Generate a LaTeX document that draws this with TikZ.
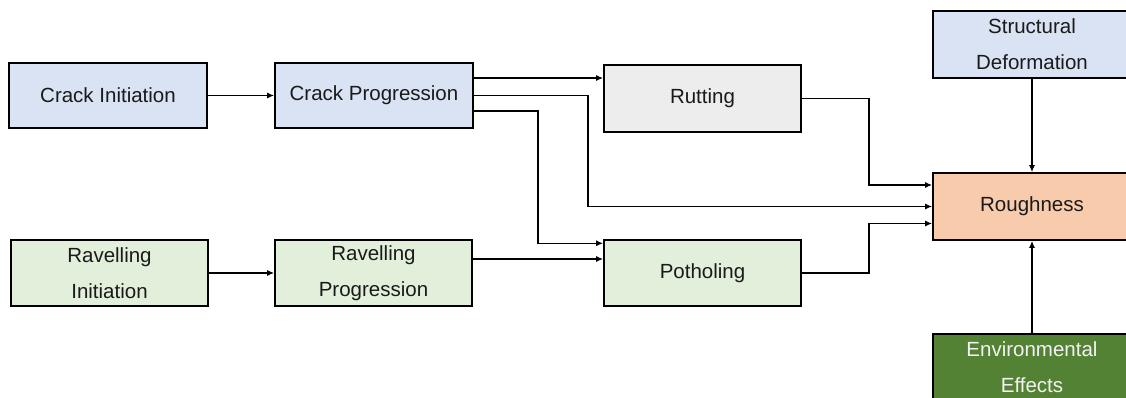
\documentclass[tikz,border=0pt]{standalone}
\usepackage{fontspec}
\setmainfont{Liberation Sans}
\usetikzlibrary{arrows.meta}

\definecolor{boxblue}{HTML}{DAE3F3}
\definecolor{boxgray}{HTML}{EDEDED}
\definecolor{boxgreen}{HTML}{E2EFDA}
\definecolor{boxorange}{HTML}{F8CBAD}
\definecolor{boxdark}{HTML}{548235}
\definecolor{ink}{HTML}{1A1A1A}

\tikzset{
  stage/.style={draw=black, line width=1.6pt, minimum width=197pt, minimum height=66pt,
    inner sep=0pt, align=center, text=ink,
    font=\fontsize{20.5}{36}\selectfont},
  arr/.style={draw=black, line width=1.4pt, -{Latex[length=7pt,width=6pt]}}
}

\begin{document}
\begin{tikzpicture}[x=1pt,y=1pt]
  \useasboundingbox (0,0) rectangle (1126,-398);
  \clip (0,0) rectangle (1126,-398);

  % crack branch
  \node[stage, fill=boxblue, minimum width=198pt, minimum height=65pt] (ci) at (108,-95.5) {Crack Initiation};
  \node[stage, fill=boxblue, minimum width=198pt, minimum height=65pt] (cp) at (374,-95.5) {Crack Progression};
  \node[stage, fill=boxgray, minimum height=67pt] (rut) at (702.5,-98.5) {Rutting};

  % ravelling branch
  \node[stage, fill=boxgreen] (ri) at (109.5,-273) {Ravelling\\Initiation};
  \node[stage, fill=boxgreen] (rp) at (373.5,-273) {Ravelling\\Progression};
  \node[stage, fill=boxgreen] (pot) at (702.5,-273) {Potholing};

  % right column, running past the right edge
  \node[stage, fill=boxblue, minimum width=198pt, minimum height=67pt] (sd) at (1032,-44.5) {Structural\\Deformation};
  \node[stage, fill=boxorange, minimum width=198pt, minimum height=67pt] (rough) at (1032,-206.5) {Roughness};
  \node[stage, fill=boxdark, text=white!95!black, minimum width=198pt, minimum height=67pt] (env) at (1032,-367.5) {Environmental\\Effects};

  % connectors
  \draw[arr] (ci) -- (cp);
  \draw[arr] ([yshift=17.5pt]cp.east) coordinate (c1) -- (c1 -| rut.west);
  \draw[arr] (cp.east) -- ++(114,0) |- (rough.west);
  \draw[arr] ([yshift=-15.5pt]cp.east) -- ++(64,0) |- ([yshift=29.7pt]pot.west);
  \draw[arr] (ri) -- (rp);
  \draw[arr] ([yshift=14pt]rp.east) coordinate (r1) -- (r1 -| pot.west);
  \draw[arr] (rut.east) -- ++(67,0) |- ([yshift=21.5pt]rough.west);
  \draw[arr] (pot.east) -- ++(67,0) |- ([yshift=-17pt]rough.west);
  \draw[arr] (sd) -- (rough);
  \draw[arr] (env) -- (rough);
\end{tikzpicture}
\end{document}
